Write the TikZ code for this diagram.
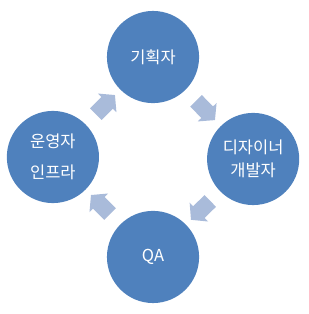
\documentclass[tikz,border=0pt]{standalone}
\usepackage{fontspec}
\setmainfont{Noto Sans CJK KR}
\usepackage{tikz}
\usetikzlibrary{shapes.arrows, calc}
\definecolor{circblue}{HTML}{4F81BD}
\definecolor{arrowblue}{HTML}{A9BBDA}

\begin{document}
\begin{tikzpicture}[
    role/.style={circle, fill=circblue, text=white, minimum size=3.24cm,
      inner sep=0pt, align=center, font=\fontsize{16.5}{22}\selectfont},
    flow/.style={single arrow, fill=arrowblue, draw=none, sloped,
      allow upside down, inner sep=0pt, minimum height=27pt,
      minimum width=26pt, single arrow head extend=5pt,
      single arrow tip angle=100}
  ]
    \useasboundingbox (-5.38,-5.52) rectangle (5.45,5.52);
    % the four roles
    \node[role] (plan) at (0,3.515) {기획자};
    \node[role] (dev) at (3.52,-0.07) {디자이너\\[1pt]개발자};
    \node[role] (qa) at (0,-3.515) {QA};
    \node[role] (ops) at (-3.52,0) {운영자\\[9pt]인프라};
    % cycle arrows
    \path (plan) -- (dev) node[flow, midway] {\rule{0pt}{16pt}};
    \path (dev) -- (qa) node[flow, midway] {\rule{0pt}{16pt}};
    \path (qa) -- (ops) node[flow, midway] {\rule{0pt}{16pt}};
    \path (ops) -- (plan) node[flow, midway] {\rule{0pt}{16pt}};
  \end{tikzpicture}
\end{document}
